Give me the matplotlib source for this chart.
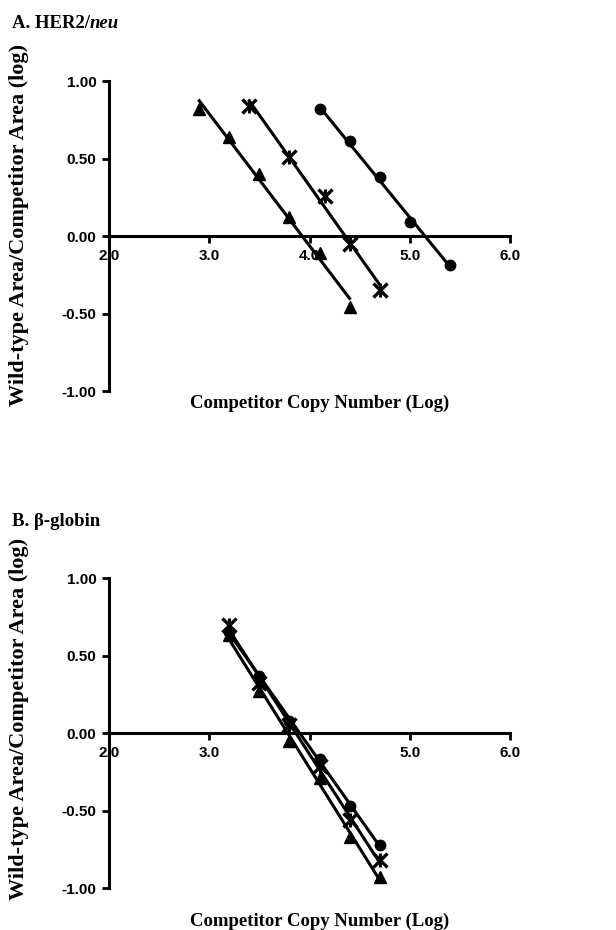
import numpy as np
import matplotlib
matplotlib.use("Agg")
import matplotlib.pyplot as plt

# Panel A: HER2/neu
a_tri_x = [2.9, 3.2, 3.5, 3.8, 4.1, 4.4]
a_tri_y = [0.82, 0.64, 0.40, 0.12, -0.11, -0.46]
a_star_x = [3.4, 3.8, 4.15, 4.4, 4.7]
a_star_y = [0.84, 0.51, 0.26, -0.05, -0.35]
a_circ_x = [4.1, 4.4, 4.7, 5.0, 5.4]
a_circ_y = [0.82, 0.61, 0.38, 0.09, -0.19]

# Panel B: beta-globin
b_x = [3.2, 3.5, 3.8, 4.1, 4.4, 4.7]
b_circ_y = [0.65, 0.365, 0.08, -0.17, -0.47, -0.72]
b_star_y = [0.70, 0.32, 0.05, -0.21, -0.56, -0.82]
b_tri_y = [0.63, 0.27, -0.05, -0.29, -0.67, -0.93]

x_ticks = [2.0, 3.0, 4.0, 5.0, 6.0]
x_ticklabels_a = ["2.0", "3.0", "4.0", "5.0", "6.0"]
x_ticklabels_b = ["2.0", "3.0", "", "5.0", "6.0"]
y_ticks = [-1.0, -0.5, 0.0, 0.5, 1.0]
y_ticklabels = ["-1.00", "-0.50", "0.00", "0.50", "1.00"]

W, H = 616, 930
fig = plt.figure(figsize=(W / 100, H / 100), dpi=100)

serif = dict(family="Liberation Serif", weight="bold")
sans = dict(family="Liberation Sans", weight="bold")


def series(ax, x, y, kind):
    x = np.asarray(x); y = np.asarray(y)
    k, b = np.polyfit(x, y, 1)
    xs = np.array([x.min(), x.max()])
    ax.plot(xs, k * xs + b, color="black", lw=2.2, zorder=3)
    if kind == "tri":
        ax.plot(x, y, ls="none", marker="^", ms=8.5, color="black", zorder=4)
    elif kind == "circ":
        ax.plot(x, y, ls="none", marker="o", ms=7.5, color="black", zorder=4)
    else:
        ax.plot(x, y, ls="none", marker="x", ms=9.5, mew=2.4, color="black", zorder=4)
        ax.plot(x, y, ls="none", marker="|", ms=10, mew=2.2, color="black", zorder=4)


def setup(ax, xlabels):
    ax.set_xlim(2.0, 6.0)
    ax.set_ylim(-1.0, 1.0)
    for s in ["top", "right"]:
        ax.spines[s].set_visible(False)
    ax.spines["bottom"].set_position(("data", 0.0))
    ax.spines["bottom"].set_linewidth(2.2)
    ax.spines["left"].set_linewidth(2.2)
    ax.spines["left"].set_bounds(-1.0, 1.0)
    ax.set_xticks(x_ticks)
    ax.set_xticklabels(xlabels, fontdict=sans, fontsize=11)
    ax.set_yticks(y_ticks)
    ax.set_yticklabels(y_ticklabels, fontdict=sans, fontsize=11)
    ax.tick_params(axis="x", direction="out", length=5, width=2, pad=4)
    ax.tick_params(axis="y", direction="out", length=5, width=2, pad=4)
    ax.patch.set_visible(False)


def fx(px):
    return px / W


def fy(py):
    return 1 - py / H


# Panel A axes: x 109..510, y 81..391
axA = fig.add_axes([fx(109), fy(391), (510 - 109) / W, (391 - 81) / H])
setup(axA, x_ticklabels_a)
series(axA, a_tri_x, a_tri_y, "tri")
series(axA, a_star_x, a_star_y, "star")
series(axA, a_circ_x, a_circ_y, "circ")

# Panel B axes: y 578..888
axB = fig.add_axes([fx(109), fy(888), (510 - 109) / W, (888 - 578) / H])
setup(axB, x_ticklabels_b)
series(axB, b_x, b_circ_y, "circ")
series(axB, b_x, b_star_y, "star")
series(axB, b_x, b_tri_y, "tri")

# Titles
tA = fig.text(fx(12), fy(28), "A. HER2/", fontsize=13.5, va="baseline", ha="left", **serif)
fig.canvas.draw()
axA.annotate("neu", xy=(1, 0), xycoords=tA, va="bottom", ha="left",
             fontsize=13.5, family="Liberation Serif", weight="bold", style="italic")
fig.text(fx(12), fy(526), "B. \u03b2-globin", fontsize=13.5, va="baseline", ha="left", **serif)

# Axis labels
fig.text(fx(19), fy(225), "Wild-type Area/Competitor Area (log)", rotation=90,
         fontsize=16, ha="center", va="center", **serif)
fig.text(fx(19), fy(719), "Wild-type Area/Competitor Area (log)", rotation=90,
         fontsize=16, ha="center", va="center", **serif)
fig.text(fx(320), fy(403), "Competitor Copy Number (Log)", fontsize=13.5,
         ha="center", va="center", **serif)
fig.text(fx(320), fy(921), "Competitor Copy Number (Log)", fontsize=13.5,
         ha="center", va="center", **serif)

fig.savefig("out.png", dpi=100)
